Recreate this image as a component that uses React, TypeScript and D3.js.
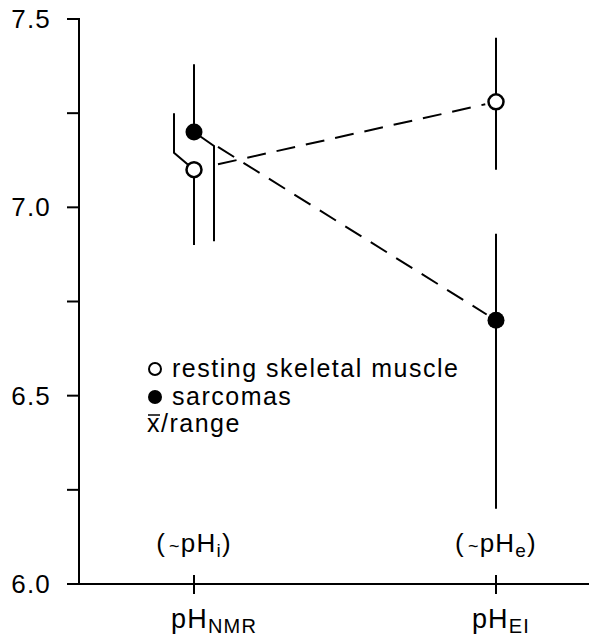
import React from 'react';
import * as d3 from 'd3';

// categories on the x axis (pH method) and the bracketed note above each
const categories = ['NMR', 'EI'];
const categoryNotes = ['i', 'e'];

// y axis ticks
const yMajorTicks = [6.0, 6.5, 7.0, 7.5];
const yMinorTicks = [6.25, 6.75, 7.25];

// resting skeletal muscle (open circles): mean and range
const restingMean = [7.1, 7.28];
const restingLow = [6.9, 7.1];
const restingHigh = [7.25, 7.45];

// sarcomas (filled circles): mean and range
const sarcomaMean = [7.2, 6.7];
const sarcomaLow = [6.91, 6.2];
const sarcomaHigh = [7.38, 6.93];

const legendItems = ['resting skeletal muscle', 'sarcomas'];

const W = 589;
const H = 638;
const FONT = '"Liberation Sans", Arial, Helvetica, sans-serif';

const App: React.FC = () => {
  const margin = { top: 19, left: 79, bottom: 584 };

  const y = d3.scaleLinear().domain([6, 7.5]).range([margin.bottom, margin.top]);
  const x = d3.scalePoint<string>().domain(categories).range([194, 496]);

  const r = 8;

  // offset drawn error bars at the crowded left category (pixel styling only)
  const barOffset = (series: 'rest' | 'sarc', i: number) => {
    if (i !== 0) return null;
    return series === 'rest' ? { side: 'up', dx: -20, dy: -17 } : { side: 'down', dx: 20, dy: 14 };
  };

  const errorBar = (
    series: 'rest' | 'sarc',
    cat: string,
    i: number,
    mean: number,
    lo: number,
    hi: number
  ) => {
    const cx = x(cat) || 0;
    const cy = y(mean);
    const off = barOffset(series, i);
    const up =
      off && off.side === 'up'
        ? `M${cx},${cy}L${cx + off.dx},${cy + off.dy}L${cx + off.dx},${y(hi)}`
        : `M${cx},${cy}L${cx},${y(hi)}`;
    const down =
      off && off.side === 'down'
        ? `M${cx},${cy}L${cx + off.dx},${cy + off.dy}L${cx + off.dx},${y(lo)}`
        : `M${cx},${cy}L${cx},${y(lo)}`;
    return (
      <g key={`${series}-${cat}`}>
        <path d={up} fill="none" stroke="#000" strokeWidth={2} />
        <path d={down} fill="none" stroke="#000" strokeWidth={2} />
      </g>
    );
  };

  // dashed connector, starting clear of the left cluster and stopping at the circle edge
  const connector = (means: number[], key: string) => {
    const x0 = x(categories[0]) || 0;
    const x1 = x(categories[1]) || 0;
    const y0 = y(means[0]);
    const y1 = y(means[1]);
    const len = Math.hypot(x1 - x0, y1 - y0);
    const t0 = 24 / (x1 - x0);
    const t1 = 1 - (r + 3) / len;
    return (
      <line
        key={key}
        x1={x0 + (x1 - x0) * t0}
        y1={y0 + (y1 - y0) * t0}
        x2={x0 + (x1 - x0) * t1}
        y2={y0 + (y1 - y0) * t1}
        stroke="#000"
        strokeWidth={2}
        strokeDasharray="19,11"
      />
    );
  };

  const textStyle = { fontFamily: FONT, fontSize: 25, letterSpacing: 1.2, fill: '#000' };
  const legendStyle = { ...textStyle, letterSpacing: 1.5 };

  return (
    <svg
      width={W}
      height={H}
      style={{ position: 'absolute', left: 0, top: 0, background: '#fff' }}
    >
      {/* axes */}
      <line x1={margin.left} x2={margin.left} y1={margin.top - 1} y2={margin.bottom} stroke="#000" strokeWidth={2} />
      <line x1={margin.left - 1} x2={W} y1={margin.bottom} y2={margin.bottom} stroke="#000" strokeWidth={2} />

      {yMajorTicks.map((t) => (
        <g key={`maj-${t}`}>
          <line x1={margin.left - 12} x2={margin.left} y1={y(t)} y2={y(t)} stroke="#000" strokeWidth={2} />
          <text x={51} y={y(t) + 9} textAnchor="end" style={{ ...textStyle, fontSize: 26 }}>
            {d3.format('.1f')(t)}
          </text>
        </g>
      ))}
      {yMinorTicks.map((t) => (
        <line key={`min-${t}`} x1={margin.left - 12} x2={margin.left} y1={y(t)} y2={y(t)} stroke="#000" strokeWidth={2} />
      ))}

      {categories.map((c, i) => (
        <g key={`xt-${c}`}>
          <line x1={x(c)} x2={x(c)} y1={margin.bottom - 9} y2={margin.bottom + 10} stroke="#000" strokeWidth={2} />
          <text x={(x(c) || 0) + (i === 0 ? 20 : 5)} y={628} textAnchor="middle" style={{ ...textStyle, fontSize: 27 }}>
            pH
            <tspan fontSize={20} dy={5}>{c}</tspan>
          </text>
          <text x={x(c)} y={552} textAnchor="middle" style={{ ...textStyle, fontSize: 26 }}>
            (
            <tspan fontSize={18} dx={3}>~</tspan>
            pH
            <tspan fontSize={19} dy={5}>{categoryNotes[i]}</tspan>
            <tspan dy={-5}>)</tspan>
          </text>
        </g>
      ))}

      {/* connectors */}
      {connector(restingMean, 'rest-line')}
      {connector(sarcomaMean, 'sarc-line')}

      {/* ranges */}
      {categories.map((c, i) => errorBar('rest', c, i, restingMean[i], restingLow[i], restingHigh[i]))}
      {categories.map((c, i) => errorBar('sarc', c, i, sarcomaMean[i], sarcomaLow[i], sarcomaHigh[i]))}

      {/* means */}
      {categories.map((c, i) => (
        <circle key={`rc-${c}`} cx={x(c)} cy={y(restingMean[i])} r={r - 0.5} fill="#fff" stroke="#000" strokeWidth={2.5} />
      ))}
      {categories.map((c, i) => (
        <circle key={`sc-${c}`} cx={x(c)} cy={y(sarcomaMean[i])} r={r + 0.5} fill="#000" />
      ))}

      {/* legend */}
      <g>
        <circle cx={155} cy={369} r={6} fill="#fff" stroke="#000" strokeWidth={2} />
        <text x={172} y={377} style={legendStyle}>{legendItems[0]}</text>
        <circle cx={155} cy={397} r={7} fill="#000" />
        <text x={172} y={405} style={legendStyle}>{legendItems[1]}</text>
        <line x1={148} x2={160} y1={415} y2={415} stroke="#000" strokeWidth={1.5} />
        <text x={147} y={432} style={legendStyle}>x/range</text>
      </g>
    </svg>
  );
};

export default App;
